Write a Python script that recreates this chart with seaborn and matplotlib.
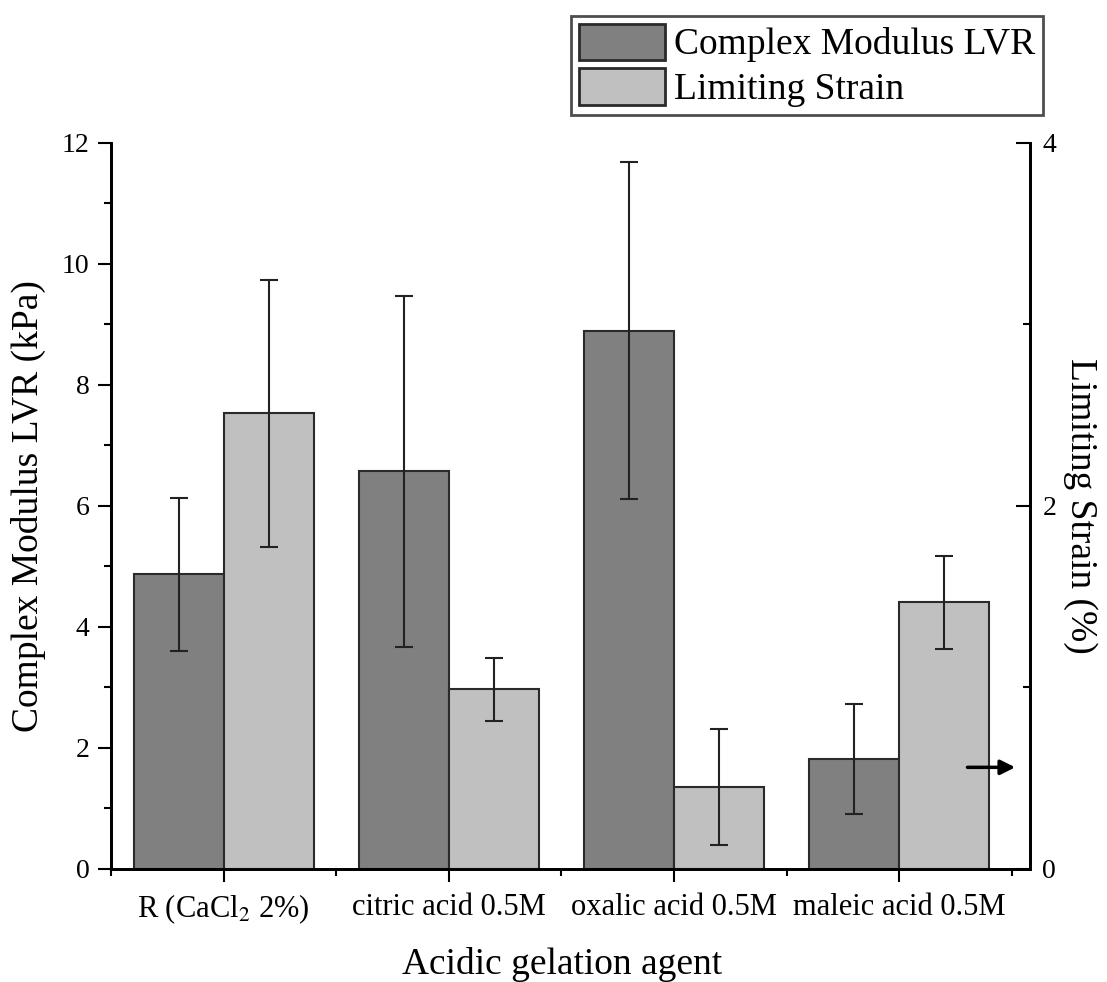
import numpy as np
import pandas as pd
import matplotlib
matplotlib.use("Agg")
import matplotlib.pyplot as plt
from matplotlib.ticker import MultipleLocator, FixedLocator
from matplotlib.patches import Patch
from matplotlib.container import BarContainer
import seaborn as sns

# Gelation agents and measured means / standard deviations
agents = ["R (CaCl$_2$ 2%)", "citric acid 0.5M", "oxalic acid 0.5M", "maleic acid 0.5M"]
modulus_mean = [4.87, 6.57, 8.90, 1.82]   # kPa
modulus_sd = [1.26, 2.90, 2.79, 0.91]
strain_mean = [2.51, 0.99, 0.45, 1.47]    # %
strain_sd = [0.735, 0.175, 0.32, 0.257]

series = ["Complex Modulus LVR", "Limiting Strain"]
colors = {"Complex Modulus LVR": "#808080", "Limiting Strain": "#c0c0c0"}

df_mod = pd.DataFrame({"agent": agents, "value": modulus_mean, "series": series[0]})
df_str = pd.DataFrame({"agent": agents, "value": strain_mean, "series": series[1]})

sns.set_style("ticks")
plt.rcParams["font.family"] = ["Liberation Serif", "DejaVu Serif"]
plt.rcParams["mathtext.fontset"] = "stix"
for key in ("text.color", "axes.labelcolor", "xtick.color", "ytick.color"):
    plt.rcParams[key] = "black"

fig = plt.figure(figsize=(11.07, 9.82), dpi=100)
ax1 = fig.add_axes([0.1003, 0.1151, 0.8301, 0.7393])
ax2 = ax1.twinx()

bar_kw = dict(x="agent", y="value", hue="series", hue_order=series, palette=colors,
              order=agents, width=0.8, dodge=True, legend=False, errorbar=None,
              edgecolor="#2a2a2a", linewidth=1.5, saturation=1)
sns.barplot(data=df_mod, ax=ax1, **bar_kw)
sns.barplot(data=df_str, ax=ax2, **bar_kw)


def bar_centers(ax):
    bars = [c for c in ax.containers if isinstance(c, BarContainer) and len(c) > 0][0]
    return [p.get_x() + p.get_width() / 2 for p in bars]


err_kw = dict(fmt="none", ecolor="#222222", elinewidth=1.5, capsize=6.5, capthick=1.5, zorder=5)
ax1.errorbar(bar_centers(ax1), modulus_mean, yerr=modulus_sd, **err_kw)
ax2.errorbar(bar_centers(ax2), strain_mean, yerr=strain_sd, **err_kw)

ax1.set_xlim(-0.5, len(agents) - 0.42)
ax1.set_ylim(0, 12)
ax2.set_ylim(0, 4)

ax1.yaxis.set_major_locator(MultipleLocator(2))
ax1.yaxis.set_minor_locator(MultipleLocator(1))
ax2.yaxis.set_major_locator(MultipleLocator(2))
ax2.yaxis.set_minor_locator(MultipleLocator(1))
ax1.xaxis.set_minor_locator(FixedLocator(np.arange(len(agents) + 1) - 0.5))

for ax in (ax1, ax2):
    ax.spines["top"].set_visible(False)
    for s in ax.spines.values():
        s.set_linewidth(2)
        s.set_color("black")

ax1.tick_params(axis="y", which="major", direction="out", length=9.5, width=1.5, pad=6,
                labelsize=20)
ax1.tick_params(axis="y", which="minor", direction="out", length=5, width=1.5)
ax1.tick_params(axis="x", which="major", direction="out", length=9, width=1.5, pad=8,
                labelsize=22)
ax1.tick_params(axis="x", which="minor", direction="out", length=5, width=1.5)
ax2.tick_params(axis="y", which="major", direction="in", length=10, width=1.5, pad=9,
                labelsize=20)
ax2.tick_params(axis="y", which="minor", direction="in", length=5, width=1.5)

ax1.set_xlabel("Acidic gelation agent", fontsize=27)
ax1.xaxis.set_label_coords(0.491, -0.108, transform=ax1.transAxes)
ax1.set_ylabel("Complex Modulus LVR (kPa)", fontsize=27, labelpad=11)
ax2.set_ylabel("Limiting Strain (%)", fontsize=27, rotation=270, labelpad=30)

# arrow pointing the light bars to the right-hand axis
ax2.annotate("", xy=(0.987, 0.56), xytext=(0.929, 0.56),
             xycoords=("axes fraction", "data"), textcoords=("axes fraction", "data"),
             arrowprops=dict(arrowstyle="-|>", color="black", lw=2.5, mutation_scale=22))

handles = [Patch(facecolor=colors[s], edgecolor="#2a2a2a", linewidth=2, label=s) for s in series]
leg = fig.legend(handles=handles, loc="upper right", bbox_to_anchor=(1043 / 1107, 1 - 16 / 982),
                 fontsize=27, frameon=True, fancybox=False, edgecolor="#222222",
                 handlelength=2.3, handleheight=1.12, handletextpad=0.25,
                 labelspacing=0.15, borderpad=0.2, borderaxespad=0)
leg.get_frame().set_linewidth(2)

fig.savefig("out.png", dpi=100)
